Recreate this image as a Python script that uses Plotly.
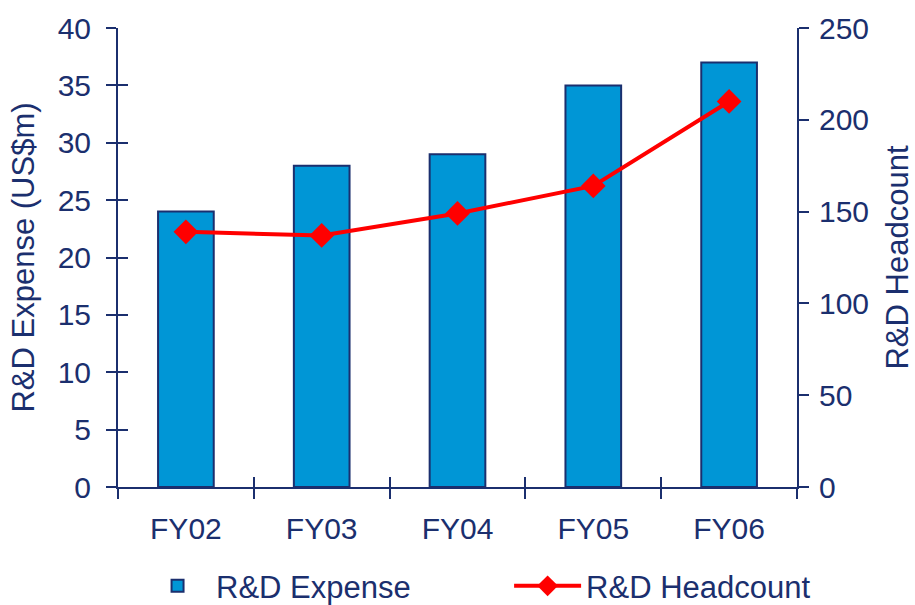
import plotly.graph_objects as go

# Fiscal years and R&D figures
years = ["FY02", "FY03", "FY04", "FY05", "FY06"]
rd_expense = [24, 28, 29, 35, 37]          # US$ millions
rd_headcount = [139, 137, 149, 164, 210]   # people

NAVY = "#1B2F6E"
BLUE = "#0096D6"
RED = "#FF0000"
FAMILY = "Liberation Sans, Arial, sans-serif"
TICK_FONT = dict(family=FAMILY, size=30, color=NAVY)
TITLE_FONT = dict(family=FAMILY, size=31, color=NAVY)
LEGEND_FONT = dict(family=FAMILY, size=31, color=NAVY)

fig = go.Figure()

fig.add_trace(go.Bar(
    x=years, y=rd_expense, name="R&D Expense",
    marker=dict(color=BLUE, line=dict(color=NAVY, width=2)),
    width=0.41, xaxis="x", yaxis="y", legend="legend",
))

fig.add_trace(go.Scatter(
    x=years, y=rd_headcount, name="R&D Headcount",
    mode="lines+markers",
    line=dict(color=RED, width=4),
    marker=dict(symbol="diamond", size=19, color=RED),
    xaxis="x", yaxis="y2", legend="legend2",
))

# invisible helper so the overlay axes (inner halves of the crossing ticks) render
fig.add_trace(go.Scatter(
    x=years, y=rd_expense, mode="markers", marker=dict(opacity=0),
    showlegend=False, hoverinfo="skip", xaxis="x2", yaxis="y3",
))

axis_common = dict(showline=True, linecolor=NAVY, linewidth=2, tickcolor=NAVY,
                   tickwidth=2, ticklen=10, showgrid=False, zeroline=False)

legend_common = dict(orientation="h", y=-0.216, yanchor="middle",
                     font=LEGEND_FONT, itemwidth=67,
                     bgcolor="rgba(0,0,0,0)")

fig.update_layout(
    width=915, height=605,
    margin=dict(l=118, r=118, t=28, b=118, autoexpand=False),
    paper_bgcolor="white", plot_bgcolor="white",
    font=TICK_FONT,
    xaxis=dict(type="category", categoryorder="array", categoryarray=years,
               range=[-0.5, 4.5], ticks="outside", tickson="boundaries",
               ticklabelstandoff=14, tickfont=TICK_FONT, **axis_common),
    xaxis2=dict(type="category", categoryorder="array", categoryarray=years,
                range=[-0.5, 4.5], overlaying="x", anchor="y",
                ticks="inside", tickson="boundaries", showticklabels=False,
                **axis_common),
    yaxis=dict(range=[0, 40], dtick=5, ticks="outside",
               ticklabelstandoff=9, tickfont=TICK_FONT,
               title=dict(text="R&D Expense (US$m)", font=TITLE_FONT, standoff=14),
               **axis_common),
    yaxis2=dict(range=[0, 250], dtick=50, ticks="outside", side="right",
                overlaying="y", anchor="x", ticklabelstandoff=4,
                tickfont=TICK_FONT,
                title=dict(text="R&D Headcount", font=TITLE_FONT, standoff=18),
                **axis_common),
    yaxis3=dict(range=[0, 40], dtick=5, ticks="inside", overlaying="y",
                anchor="x", showticklabels=False, **axis_common),
    yaxis4=dict(range=[0, 250], dtick=50, ticks="inside", side="right",
                overlaying="y", anchor="x", showticklabels=False,
                **axis_common),
    legend=dict(x=0.031, xanchor="left", **legend_common),
    legend2=dict(x=0.576, xanchor="left", **legend_common),
    showlegend=True,
)

fig.write_html("out.html")
